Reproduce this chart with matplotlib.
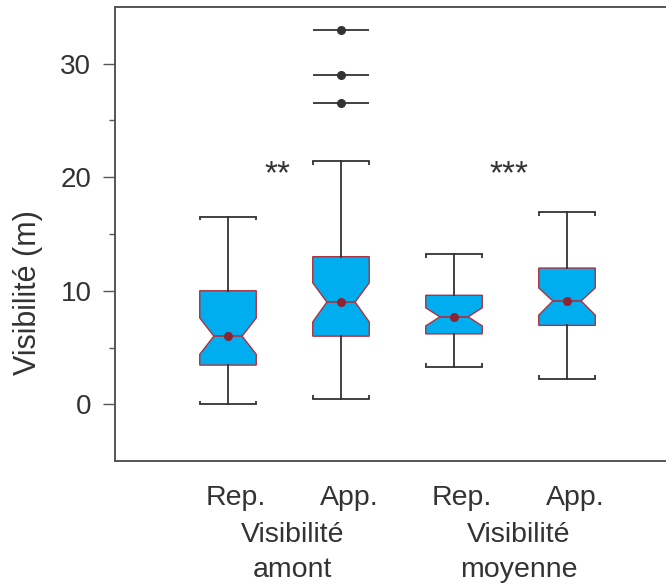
import matplotlib
matplotlib.use('Agg')
import matplotlib.pyplot as plt
import matplotlib.transforms as mtransforms
from matplotlib.ticker import FixedLocator

plt.rcParams['font.family'] = ['Liberation Sans', 'DejaVu Sans']

# valeurs
positions = [1, 2, 3, 4]
sous_labels = ['Rep.', 'App.', 'Rep.', 'App.']
groupes = ['Visibilité\namont', 'Visibilité\nmoyenne']
whislo = [0.0, 0.5, 3.3, 2.25]
q1 = [3.45, 6.0, 6.2, 6.95]
cilo = [4.4, 7.25, 6.9, 7.85]
med = [6.0, 9.0, 7.7, 9.1]
cihi = [7.6, 10.7, 8.5, 10.25]
q3 = [10.0, 13.0, 9.6, 12.0]
whishi = [16.5, 21.4, 13.2, 16.9]
fliers = [[], [26.5, 29.0, 33.0], [], []]
etoiles = ['**', '***']
etoiles_x = [1.44, 3.49]
etoiles_y = [20.2, 20.2]

bleu = '#00AEEF'
rouge = '#B0303C'
gris = '#333333'
largeur = 0.5

stats = []
for i in range(len(positions)):
    stats.append(dict(med=med[i], q1=q1[i], q3=q3[i], whislo=whislo[i], whishi=whishi[i],
                      cilo=cilo[i], cihi=cihi[i], fliers=fliers[i], label=''))

fig = plt.figure(figsize=(6.66, 5.86), dpi=100)
ax = fig.add_axes([115/666, 1-461/586, 565/666, 454/586])

ax.bxp(stats, positions=positions, widths=largeur, capwidths=largeur,
       shownotches=True, patch_artist=True, showfliers=True,
       boxprops=dict(facecolor=bleu, edgecolor=rouge, linewidth=1.0),
       medianprops=dict(color=rouge, linewidth=1.2),
       whiskerprops=dict(color=gris, linewidth=1.3),
       capprops=dict(color=gris, linewidth=1.3),
       flierprops=dict(marker='o', markerfacecolor=gris, markeredgecolor=gris, markersize=5.5))

# petits crochets au bout des moustaches
for p, lo, hi in zip(positions, whislo, whishi):
    for xx in (p - largeur/2, p + largeur/2):
        ax.vlines(xx, hi - 0.3, hi, color=gris, lw=1.3)
        ax.vlines(xx, lo, lo + 0.3, color=gris, lw=1.3)

# lignes horizontales sur les valeurs extrêmes
for p, fl in zip(positions, fliers):
    for v in fl:
        ax.hlines(v, p - largeur/2, p + largeur/2, color=gris, lw=1.3, zorder=1)

# point rouge sur la médiane
ax.plot(positions, med, 'o', color='#8E2432', markersize=5.5, zorder=5)

for txt, xx, yy in zip(etoiles, etoiles_x, etoiles_y):
    ax.text(xx, yy, txt, ha='center', va='center', fontsize=24, color=gris)

ax.set_xlim(0, 5)
ax.set_ylim(-5, 35)
ax.set_yticks([0, 10, 20, 30])
ax.yaxis.set_minor_locator(FixedLocator([5, 15, 25]))
ax.tick_params(axis='y', which='major', length=9, width=1.0, color='#555555',
               labelsize=20, labelcolor=gris, pad=8)
ax.tick_params(axis='y', which='minor', length=4, width=1.0, color='#555555')
ax.set_xticks([])

for s in ['left', 'top', 'bottom']:
    ax.spines[s].set_color('#555555')
    ax.spines[s].set_linewidth(1.4)
ax.spines['right'].set_visible(False)

# étiquettes sous l'axe
trans = mtransforms.blended_transform_factory(ax.transData, fig.transFigure)
decal = 0.07
for p, lab in zip(positions, sous_labels):
    fig.text(p + decal, 1 - 505/586, lab, transform=trans, ha='center', va='baseline',
             fontsize=20.5, color=gris)
centres = [(positions[0] + positions[1]) / 2, (positions[2] + positions[3]) / 2]
for c, g in zip(centres, groupes):
    l1, l2 = g.split('\n')
    fig.text(c + decal, 1 - 542/586, l1, transform=trans, ha='center', va='baseline',
             fontsize=20.5, color=gris)
    fig.text(c + decal, 1 - 577/586, l2, transform=trans, ha='center', va='baseline',
             fontsize=20.5, color=gris)

fig.text(28/666, 1 - 293/586, 'Visibilité (m)', rotation=90, ha='center', va='center',
         fontsize=22, color=gris)

fig.savefig('out.png', dpi=100)
